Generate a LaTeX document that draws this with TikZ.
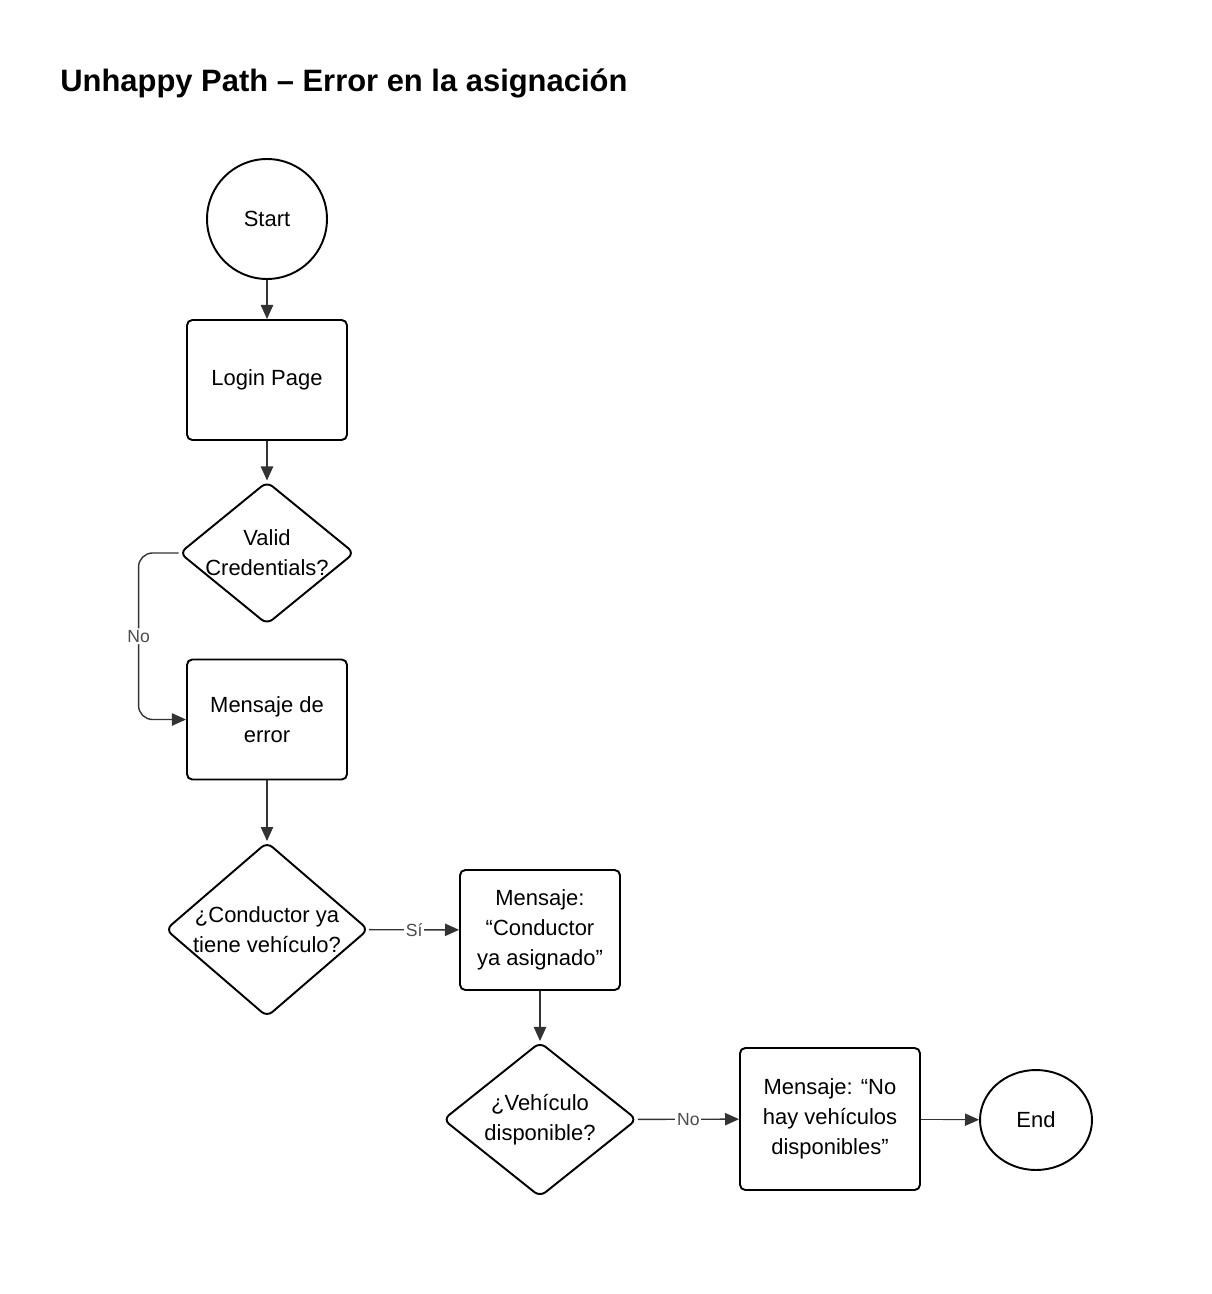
\documentclass[tikz,border=0pt]{standalone}
\usepackage{fontspec}
\setmainfont{Liberation Sans}
\usetikzlibrary{shapes.geometric, arrows.meta, positioning, calc}

\begin{document}
\begin{tikzpicture}[x=0.02cm, y=-0.02cm,
    font=\fontsize{12.5pt}{17pt}\selectfont,
    startstop/.style={circle, draw, line width=1.1pt, minimum size=2.4cm, inner sep=0pt},
    endnode/.style={ellipse, draw, line width=1.1pt, minimum width=2.24cm, minimum height=2cm, inner sep=0pt},
    process/.style={rectangle, draw, line width=1.1pt, rounded corners=3pt, minimum width=3.2cm, minimum height=2.4cm, align=center, inner sep=2pt},
    decision/.style={diamond, draw, line width=1.1pt, rounded corners=4pt, inner sep=0pt},
    arrow/.style={-{Triangle[length=8pt, width=7pt]}, line width=0.8pt, draw=black!80},
    lbl/.style={font=\fontsize{10pt}{12pt}\selectfont, fill=white, inner sep=1pt, text=black!70}]

    \useasboundingbox (0,0) rectangle (1212,1294);

    % Title
    \node[anchor=base west, inner sep=0pt, font=\fontsize{17.6pt}{20pt}\selectfont\bfseries] (title) at (60,92) {Unhappy Path – Error en la asignación};

    % Nodes
    \node[startstop] (start) at (267,219) {Start};
    \node[process] (login) at (267,380) {Login Page};
    \node[decision, minimum width=3.5cm, minimum height=2.86cm,
        label={[align=center]center:Valid\\Credentials?}] (valid) at (267,553) {};
    \node[process] (error) at (267,719.5) {Mensaje de\\error};
    \node[decision, minimum width=4.06cm, minimum height=3.5cm,
        label={[align=center]center:¿Conductor ya\\tiene vehículo?}] (cond) at (267,929.5) {};
    \node[process] (asignado) at (540,930) {Mensaje:\\“Conductor\\ya asignado”};
    \node[decision, minimum width=3.88cm, minimum height=3.1cm,
        label={[align=center]center:¿Vehículo\\disponible?}] (disp) at (540,1119.5) {};
    \node[process, minimum width=3.6cm, minimum height=2.84cm] (novehic) at (830,1119) {Mensaje: “No\\hay vehículos\\disponibles”};
    \node[endnode] (end) at (1036,1120) {End};

    % Connectors
    \draw[arrow] (start) -- (login);
    \draw[arrow] (login) -- (valid);
    \draw[arrow, rounded corners=8pt] (valid.west) -- ++(-40,0) |- node[lbl, pos=0.25] {No} (error.west);
    \draw[arrow] (error) -- (cond);
    \draw[arrow] (cond) -- node[lbl] {Sí} (asignado);
    \draw[arrow] (asignado) -- (disp);
    \draw[arrow] (disp) -- node[lbl] {No} (novehic);
    \draw[arrow, line width=0.5pt] (novehic) -- (end);

\end{tikzpicture}
\end{document}
